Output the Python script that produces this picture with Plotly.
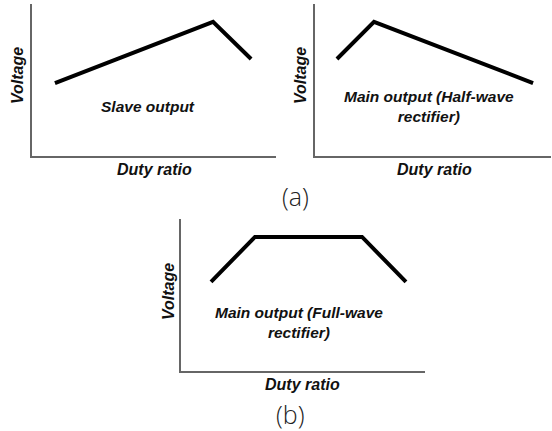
import plotly.graph_objects as go

# Qualitative voltage vs. duty-ratio curves (arbitrary units 0..10)
slave_duty = [0.94, 7.42, 8.98]
slave_volt = [4.8, 8.82, 6.38]

half_duty = [0.93, 2.5, 9.24]
half_volt = [6.38, 8.82, 4.8]

full_duty = [1.23, 3.03, 7.42, 9.22]
full_volt = [5.86, 8.82, 8.82, 5.86]

panel_labels = ["Slave output", "Main output (Half-wave<br>rectifier)", "Main output (Full-wave<br>rectifier)"]
x_title = "Duty ratio"
y_title = "Voltage"
captions = ["(a)", "(b)"]

W, H = 552, 431


def px(x):
    return x / W


def py(y):
    return 1 - y / H


# panel boxes in pixels: left, right, top, bottom
boxes = [(32, 276, 4, 156), (315, 551, 4, 156), (181, 425, 219, 371)]

fig = go.Figure()
series = [(slave_duty, slave_volt), (half_duty, half_volt), (full_duty, full_volt)]
for i, (xs, ys) in enumerate(series):
    sfx = "" if i == 0 else str(i + 1)
    fig.add_trace(go.Scatter(x=xs, y=ys, mode="lines",
                             line=dict(color="black", width=4),
                             xaxis="x" + sfx, yaxis="y" + sfx,
                             showlegend=False, hoverinfo="skip"))

layout = dict(width=W, height=H, margin=dict(l=0, r=0, t=0, b=0),
              paper_bgcolor="white", plot_bgcolor="white", showlegend=False)
axis_style = dict(range=[0, 10], showgrid=False, zeroline=False, showticklabels=False,
                  ticks="", showline=True, linecolor="#666666", linewidth=1.5,
                  fixedrange=True)
for i, (l, r, t, b) in enumerate(boxes):
    sfx = "" if i == 0 else str(i + 1)
    layout["xaxis" + sfx] = dict(domain=[px(l), px(r)], anchor="y" + sfx, **axis_style)
    layout["yaxis" + sfx] = dict(domain=[py(b), py(t)], anchor="x" + sfx, **axis_style)
fig.update_layout(**layout)

title_font = dict(family="Liberation Sans, Arial", size=16, color="#111111", weight="bold", style="italic")
lab_font = dict(family="Liberation Sans, Arial", size=15.5, color="#111111", weight="bold", style="italic")

annotations = []
# axis titles
for (cx, cy), (tx, ty) in [((18, 76), (154, 169)), ((301, 76), (434, 169)), ((168, 292), (302, 384))]:
    annotations.append(dict(x=px(cx), y=py(cy), xref="paper", yref="paper", text=y_title,
                            textangle=-90, showarrow=False, font=title_font,
                            xanchor="center", yanchor="middle"))
    annotations.append(dict(x=px(tx), y=py(ty), xref="paper", yref="paper", text=x_title,
                            showarrow=False, font=title_font, xanchor="center", yanchor="middle"))
# in-panel labels
for (cx, cy), txt in zip([(148, 107), (429, 107), (299, 322)], panel_labels):
    annotations.append(dict(x=px(cx), y=py(cy), xref="paper", yref="paper", text=txt,
                            showarrow=False, font=lab_font, align="center",
                            xanchor="center", yanchor="middle"))
# sub-figure captions
cap_font = dict(family="Open Sans, Noto Sans", size=25, color="#222222", weight=300)
for (cx, cy), txt in zip([(295, 196), (290, 414)], captions):
    annotations.append(dict(x=px(cx), y=py(cy), xref="paper", yref="paper", text=txt,
                            showarrow=False, font=cap_font, xanchor="center", yanchor="middle"))
fig.update_layout(annotations=annotations)

fig.write_html("out.html")
